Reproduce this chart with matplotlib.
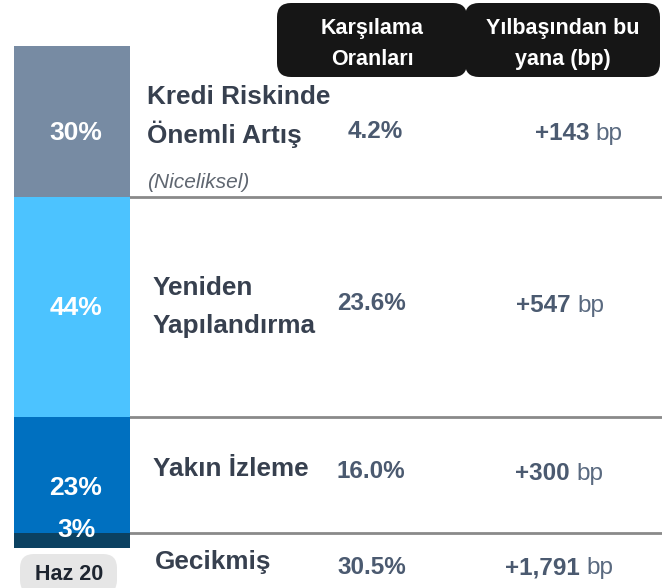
import matplotlib.pyplot as plt
from matplotlib.patches import FancyBboxPatch
import numpy as np

plt.rcParams['font.family'] = ['Liberation Sans', 'DejaVu Sans']

# Data
shares = [30, 44, 23, 3]
share_labels = ['30%', '44%', '23%', '3%']
stages = [['Kredi Riskinde', 'Önemli Artış'], ['Yeniden', 'Yapılandırma'], ['Yakın İzleme'], ['Gecikmiş']]
coverage = ['4.2%', '23.6%', '16.0%', '30.5%']
ytd_bp = ['+143', '+547', '+300', '+1,791']
headers = ['Karşılama\nOranları', 'Yılbaşından bu\nyana (bp)']
period = 'Haz 20'

colors = ['#778ba3', '#4cc3ff', '#0070c0', '#0b4161']
label_col = '#37404f'
value_col = '#4b5a70'

W, H = 662, 588
fig = plt.figure(figsize=(W / 100, H / 100), dpi=100)

# stacked bar axes (pixel-ish x, percent y)
ax = fig.add_axes([14 / W, (H - 548) / H, (W - 14) / W, 502 / H])
bottoms = np.concatenate([[0], np.cumsum(shares)[:-1]])
ax.hlines(bottoms[1:], 108, W - 14, color='#8a8a8a', lw=2, zorder=1)
ax.bar(0, shares, bottom=bottoms, width=116, align='edge', color=colors, zorder=2)
ax.set_xlim(0, W - 14)
ax.set_ylim(100, 0)
ax.axis('off')

# overlay for text, pixel coordinates
tx = fig.add_axes([0, 0, 1, 1])
tx.set_xlim(0, W)
tx.set_ylim(H, 0)
tx.axis('off')

# header boxes
for (x0, x1), txt in zip([(277, 467), (465, 660)], headers):
    tx.add_patch(FancyBboxPatch((x0 + 14, 3 + 14), x1 - x0 - 28, 74 - 28,
                                boxstyle='round,pad=14', fc='#161616', ec='none'))
    tx.text((x0 + x1) / 2, 44, txt, color='white', fontsize=15.5, fontweight='bold',
            ha='center', va='center', linespacing=1.6)

# share labels inside bar
share_y = [133, 308, 488, 530]
for y, s in zip(share_y, share_labels):
    tx.text(76, y, s, color='white', fontsize=19, fontweight='bold', ha='center', va='center')

# row texts
label_y = [[97, 134], [288, 326], [469], [562]]
label_x = [147, 153, 153, 155]
for lines, ys, x in zip(stages, label_y, label_x):
    for line, y in zip(lines, ys):
        tx.text(x, y, line, color=label_col, fontsize=18.8, fontweight='bold', ha='left', va='center')
tx.text(147, 182, '(Niceliksel)', color='#5f6670', fontsize=15, style='italic',
        ha='left', va='center')

val_x = [348, 337, 337, 337]
val_y = [131, 304, 471, 567]
for x, y, v in zip(val_x, val_y, coverage):
    tx.text(x, y, v, color=value_col, fontsize=17.5, fontweight='bold', ha='left', va='center')

bp_split = [589, 571, 570, 580]
bp_y = [134, 306, 474, 568]
for x, y, v in zip(bp_split, bp_y, ytd_bp):
    tx.text(x, y, v, color=value_col, fontsize=17.5, fontweight='bold', ha='right', va='center')
    tx.text(x + 6, y, 'bp', color='#5a6a80', fontsize=17.5, ha='left', va='center')

# period label
tx.add_patch(FancyBboxPatch((20 + 14, 554 + 14), 97 - 28, 40 - 28,
                            boxstyle='round,pad=14', fc='#e6e6e6', ec='none', clip_on=False))
tx.text(69, 575, period, color='#1e2530', fontsize=15.5, fontweight='bold', ha='center', va='center')

fig.savefig('out.png', dpi=100)
